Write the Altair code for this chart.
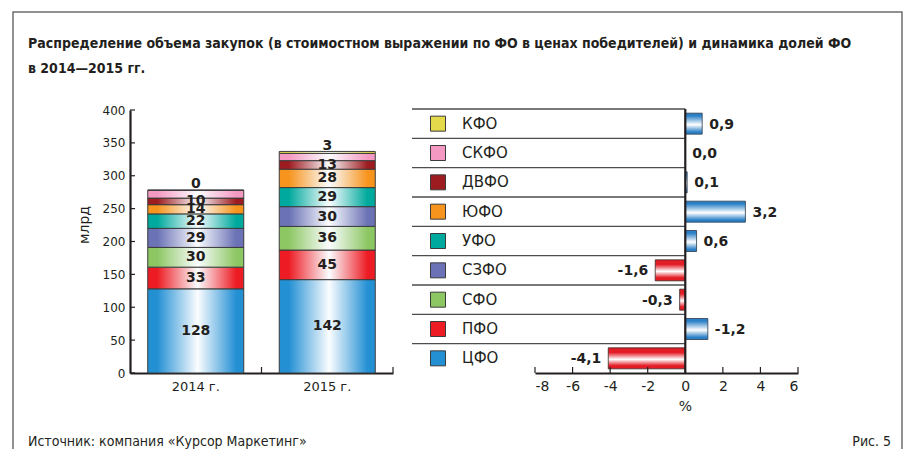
import altair as alt
import pandas as pd

# ---------------- data ----------------
regions = ["ЦФО", "ПФО", "СФО", "СЗФО", "УФО", "ЮФО", "ДВФО", "СКФО", "КФО"]
colors = ["#2490d4", "#ed1c24", "#8dc764", "#6b72b5", "#00a99d",
          "#f7941e", "#9d1c20", "#f49ac2", "#e4d84b"]
years = ["2014 г.", "2015 г."]
vol_2014 = [128, 33, 30, 29, 22, 14, 10, 12, 0]
vol_2015 = [142, 45, 36, 30, 29, 28, 13, 11, 3]
lab_2014 = ["128", "33", "30", "29", "22", "14", "10", "", "0"]
lab_2015 = ["142", "45", "36", "30", "29", "28", "13", "", "3"]
share_change = [-4.1, 1.2, -0.3, -1.6, 0.6, 3.2, 0.1, 0.0, 0.9]
change_labels = ["-4,1", "-1,2", "-0,3", "-1,6", "0,6", "3,2", "0,1", "0,0", "0,9"]
y_ticks = [0, 50, 100, 150, 200, 250, 300, 350, 400]
x_ticks = [-8, -6, -4, -2, 0, 2, 4, 6]

title_1 = "Распределение объема закупок (в стоимостном выражении по ФО в ценах победителей) и динамика долей ФО"
title_2 = "в 2014—2015 гг."
source = "Источник: компания «Курсор Маркетинг»"
fig = "Рис. 5"

INK = "#231f20"
W, H = 668, 263

# ---------------- tables ----------------
rows = []
for yr, vals, labs in [(years[0], vol_2014, lab_2014), (years[1], vol_2015, lab_2015)]:
    cum = 0
    for r, v, l in zip(regions, vals, labs):
        ly = cum + v + 9 if r == "КФО" else cum + v / 2
        rows.append(dict(year=yr, region=r, start=cum, end=cum + v, label=l, ly=ly))
        cum += v
stack = pd.DataFrame(rows)

right = pd.DataFrame(dict(region=regions, change=share_change, label=change_labels, color=colors))
top_down = regions[::-1]


def hgrad(c):
    return {"gradient": "linear", "x1": 0, "x2": 1, "y1": 0, "y2": 0,
            "stops": [{"offset": 0, "color": c}, {"offset": 0.1, "color": c},
                      {"offset": 0.52, "color": "#fbfdff"},
                      {"offset": 0.92, "color": c}, {"offset": 1, "color": c}]}


def vgrad(c, lo=0.22, hi=0.85):
    return {"gradient": "linear", "x1": 0, "x2": 0, "y1": 0, "y2": 1,
            "stops": [{"offset": 0, "color": c}, {"offset": lo, "color": c},
                      {"offset": 0.55, "color": "#ffffff"},
                      {"offset": hi, "color": c}, {"offset": 1, "color": c}]}


# ---------------- left chart ----------------
lx_scale = alt.Scale(domain=years, range=[0, 263], paddingInner=0, paddingOuter=0)
ly_scale = alt.Scale(domain=[0, 400], nice=False, zero=True)

lx_axis = alt.Axis(title=None, orient="bottom", labelAngle=0, labelFont="DejaVu Sans",
                   labelFontSize=13, labelColor=INK, labelPadding=7, ticks=False,
                   domainColor=INK, domainWidth=2.2, grid=False)
ly_axis = alt.Axis(values=y_ticks, title=None, orient="left", labelFont="DejaVu Sans",
                   labelFontSize=12, labelColor=INK, ticks=False,
                   labelPadding=5, domainColor=INK, domainWidth=2.2, grid=False)

lx = alt.X("year:N", scale=lx_scale, sort=years, axis=lx_axis)


def ly(field):
    return alt.Y(field, scale=ly_scale, axis=ly_axis)


left_layers = []
for r, c in zip(regions, colors):
    d = stack[stack.region == r]
    left_layers.append(
        alt.Chart(d).mark_bar(size=96, color=hgrad(c), stroke="#3b3b3b", strokeWidth=1).encode(
            x=lx, y=ly("start:Q"), y2="end:Q",
        )
    )

seg_text = alt.Chart(stack[stack.label != ""]).mark_text(
    font="DejaVu Sans", fontWeight="bold", fontSize=14, color=INK, baseline="middle"
).encode(x=lx, y=ly("ly:Q"), text="label:N")

ytick_df = pd.DataFrame(dict(start=y_ticks, year=[years[0]] * len(y_ticks)))
y_inticks = alt.Chart(ytick_df).mark_rule(color=INK, strokeWidth=1.2).encode(
    y=ly("start:Q"), x=alt.value(0), x2=alt.value(5))

year_df = pd.DataFrame(dict(year=years, start=[0, 0]))
x_inticks = alt.Chart(year_df).mark_rule(color=INK, strokeWidth=1.2).encode(
    x=alt.X("year:N", scale=lx_scale, sort=years, bandPosition=1, axis=lx_axis),
    y=alt.value(257), y2=alt.value(263))

one = pd.DataFrame(dict(a=[0]))
ylab = alt.Chart(one).mark_text(text="млрд", angle=270, font="DejaVu Sans", fontSize=14,
                                color=INK, align="center", baseline="middle").encode(
    x=alt.value(-45), y=alt.value(115))

frame = alt.Chart(one).mark_rect(fill=None, fillOpacity=0, stroke="#6d6e70", strokeWidth=1.5).encode(
    x=alt.value(-117), x2=alt.value(772), y=alt.value(-98), y2=alt.value(420))

t1 = alt.Chart(one).mark_text(text=title_1, font="DejaVu Sans Condensed", fontWeight="bold",
                              fontSize=14, color=INK, align="left", baseline="alphabetic").encode(
    x=alt.value(-102), y=alt.value(-62))
t2 = alt.Chart(one).mark_text(text=title_2, font="DejaVu Sans Condensed", fontWeight="bold",
                              fontSize=14, color=INK, align="left", baseline="alphabetic").encode(
    x=alt.value(-102), y=alt.value(-37.5))
src = alt.Chart(one).mark_text(text=source, font="DejaVu Sans Condensed", fontSize=14,
                               color=INK, align="left", baseline="alphabetic").encode(
    x=alt.value(-102), y=alt.value(336))
figt = alt.Chart(one).mark_text(text=fig, font="DejaVu Sans Condensed", fontSize=14,
                                color=INK, align="right", baseline="alphabetic").encode(
    x=alt.value(761), y=alt.value(336))

left = alt.layer(*left_layers, seg_text, y_inticks, x_inticks)

# ---------------- right chart ----------------
rx_scale = alt.Scale(domain=[-8, 6], range=[405, 668], nice=False, zero=False)
ry_scale = alt.Scale(domain=top_down, range=[-1, 263], paddingInner=0, paddingOuter=0)

rx_axis = alt.Axis(values=x_ticks, title=None, orient="bottom", labelFont="DejaVu Sans",
                   labelFontSize=14, labelColor=INK, ticks=False, labelPadding=6,
                   labelExpr="'' + datum.value",
                   domainColor=INK, domainWidth=2.2, grid=False)


def rx(field):
    return alt.X(field, scale=rx_scale, axis=rx_axis)


ry = alt.Y("region:N", scale=ry_scale, sort=top_down, axis=None)

row_lines = alt.Chart(right).mark_rule(color="#4d4d4f", strokeWidth=1.3).encode(
    y=alt.Y("region:N", scale=ry_scale, sort=top_down, axis=None, bandPosition=0),
    x=alt.X(datum=0, scale=rx_scale, axis=rx_axis), x2=alt.value(282))

pos_bars = alt.Chart(right[right.change > 0]).mark_bar(
    size=21, color=vgrad("#2a7fc6", 0.12, 0.9), stroke="#2f3b4a", strokeWidth=0.8).encode(
    y=ry, x=rx("change:Q"), x2=alt.datum(0))
neg_bars = alt.Chart(right[right.change < 0]).mark_bar(
    size=21, color=vgrad("#e21d25"), stroke="#3a2a2a", strokeWidth=0.8).encode(
    y=ry, x=rx("change:Q"), x2=alt.datum(0))

pos_text = alt.Chart(right[right.change >= 0]).mark_text(
    font="DejaVu Sans", fontWeight="bold", fontSize=14, color=INK, align="left",
    baseline="middle", dx=7, dy=1).encode(
    y=ry, x=rx("change:Q"), text="label:N")
neg_text = alt.Chart(right[right.change < 0]).mark_text(
    font="DejaVu Sans", fontWeight="bold", fontSize=14, color=INK, align="right",
    baseline="middle", dx=-7, dy=1).encode(
    y=ry, x=rx("change:Q"), text="label:N")

zero_line = alt.Chart(one).mark_rule(color=INK, strokeWidth=2.2).encode(
    x=alt.X(datum=0, scale=rx_scale, axis=rx_axis), y=alt.value(-1), y2=alt.value(263))

xtick_df = pd.DataFrame(dict(change=x_ticks))
r_inticks = alt.Chart(xtick_df).mark_rule(color=INK, strokeWidth=1.2).encode(
    x=rx("change:Q"), y=alt.value(257), y2=alt.value(263))

pct = alt.Chart(one).mark_text(text="%", font="DejaVu Sans", fontSize=14, color=INK,
                               baseline="middle", align="center").encode(
    x=alt.X(datum=0, scale=rx_scale, axis=rx_axis), y=alt.value(297))

swatch = alt.Chart(right).mark_square(size=225, filled=True, opacity=1, stroke="#3b3b3b",
                                      strokeWidth=1).encode(
    y=ry, x=alt.value(308),
    color=alt.Color("region:N", scale=alt.Scale(domain=regions, range=colors), legend=None))
names = alt.Chart(right).mark_text(font="DejaVu Sans", fontSize=15, color=INK, align="left",
                                   baseline="middle").encode(
    y=ry, x=alt.value(332), text="region:N")

rightc = alt.layer(row_lines, pos_bars, neg_bars, zero_line, r_inticks, pos_text, neg_text,
                   pct, swatch, names)

deco = alt.layer(frame, ylab, t1, t2, src, figt)

chart = alt.layer(deco, left, rightc).resolve_scale(
    x="independent", y="independent", color="independent"
).properties(
    width=W, height=H,
    autosize=alt.AutoSizeParams(type="none"),
    padding={"left": 122, "top": 102, "right": 105, "bottom": 76},
    background="white",
).configure_view(stroke=None)

chart.save("out.html", embed_options={"renderer": "svg", "actions": False})
